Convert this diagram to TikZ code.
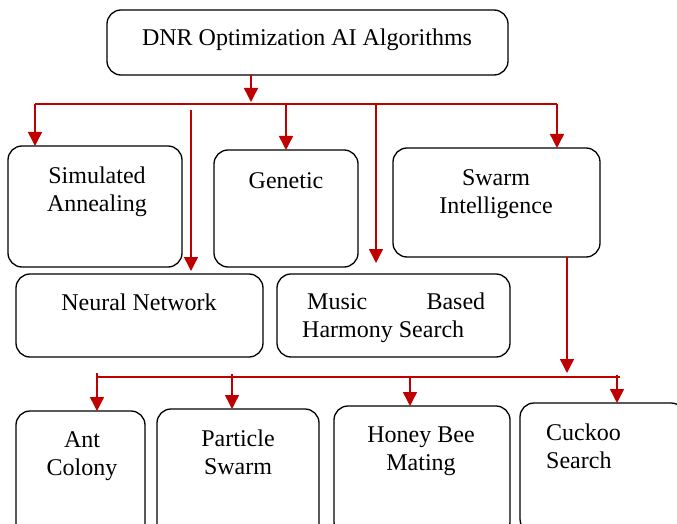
\documentclass[tikz,border=0pt]{standalone}
\usepackage{fontspec}
\setmainfont{Liberation Serif}
\usetikzlibrary{arrows.meta}
\definecolor{arrred}{RGB}{192,0,0}
\begin{document}
\begin{tikzpicture}[x=1pt,y=-1pt,
  box/.style={draw=black,line width=1.3pt,rounded corners=14pt,anchor=north west,inner sep=0pt,outer sep=0pt},
  txt/.style={font=\fontsize{24}{27.5}\selectfont,inner sep=0pt,align=center,anchor=base},
  bus/.style={draw=arrred,line width=1.4pt},
  arr/.style={draw=arrred,line width=1.4pt,-{Triangle[width=14pt,length=14pt]}}]
\useasboundingbox (0,0) rectangle (677,524);
% boxes
\node[box,minimum width=401pt,minimum height=65pt] (top) at (107,10) {};
\node[box,minimum width=174pt,minimum height=121pt] (sa) at (8,146) {};
\node[box,minimum width=144pt,minimum height=117pt] (gen) at (214,150) {};
\node[box,minimum width=207pt,minimum height=109pt] (sw) at (393,148) {};
\node[box,minimum width=247pt,minimum height=83pt] (nn) at (16,274) {};
\node[box,minimum width=233pt,minimum height=83pt] (mu) at (277,274) {};
\node[box,minimum width=129pt,minimum height=130pt] (ant) at (16,411) {};
\node[box,minimum width=162pt,minimum height=130pt] (pso) at (157,409) {};
\node[box,minimum width=176pt,minimum height=130pt] (hb) at (334,406) {};
\node[box,minimum width=165pt,minimum height=130pt] (ck) at (520,403) {};
% texts (base = baseline of the last line)
\node[txt] (ttop) at (307,46) {DNR Optimization AI Algorithms};
\node[txt] (tsa) at (97,211) {Simulated\\Annealing};
\node[txt] (tgen) at (286,188) {Genetic};
\node[txt] (tsw) at (496,213) {Swarm\\Intelligence};
\node[txt] (tnn) at (139,310) {Neural Network};
\node[txt,anchor=base west,align=left] (tmu) at (302,337) {\hspace*{5pt}\makebox[178pt][s]{Music Based}\\Harmony Search};
\node[txt] (tant) at (82,475) {Ant\\Colony};
\node[txt] (tpso) at (238,474) {Particle\\Swarm};
\node[txt] (thb) at (421,470) {Honey Bee\\Mating};
\node[txt,anchor=base west,align=left] (tck) at (546,468) {Cuckoo\\Search};
% upper bus
\coordinate (b0) at (251,102);
\coordinate (bl) at (35,104);
\coordinate (br) at (557,104);
\coordinate (g0) at (286,104);
\coordinate (n0) at (191,110);
\coordinate (n1) at (191,271);
\coordinate (m0) at (376,104);
\coordinate (m1) at (376,263);
\draw[arr] (top.south -| b0) -- (b0);
\draw[bus] (bl) -- (br);
\draw[arr] (bl) -- (sa.north -| bl);
\draw[arr] (g0) -- (gen.north -| g0);
\draw[arr] (br) -- (sw.north -| br);
\draw[arr] (n0) -- (n1);
\draw[arr] (m0) -- (m1);
% lower bus
\coordinate (s0) at (567,373);
\coordinate (ll) at (97,377);
\coordinate (lr) at (620,377);
\coordinate (a0) at (97,373);
\coordinate (p0) at (232,374);
\coordinate (h0) at (410,377);
\coordinate (c0) at (617,375);
\draw[arr] (sw.south -| s0) -- (s0);
\draw[bus] (ll) -- (lr);
\draw[arr] (a0) -- (ant.north -| a0);
\draw[arr] (p0) -- (pso.north -| p0);
\draw[arr] (h0) -- (hb.north -| h0);
\draw[arr] (c0) -- (ck.north -| c0);
\end{tikzpicture}
\end{document}
